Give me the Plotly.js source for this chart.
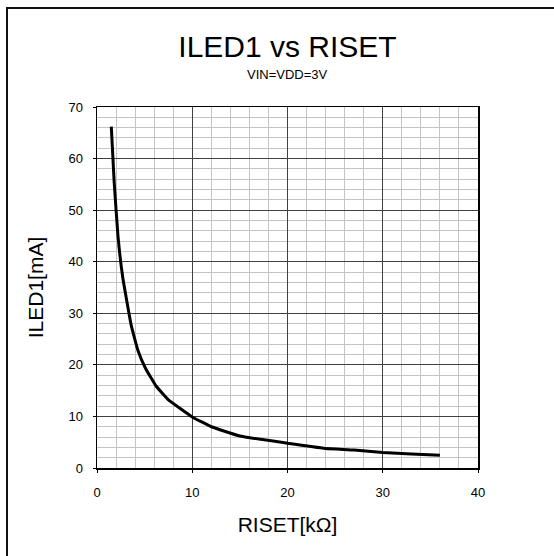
<!DOCTYPE html>
<html>
<head>
<meta charset="utf-8">
<script src="https://cdn.plot.ly/plotly-3.0.1.min.js"></script>
<style>
  html, body { margin: 0; padding: 0; background: #fff; }
  #wrap { position: relative; width: 554px; height: 556px; overflow: hidden; }
  #chart { position: absolute; left: 0; top: 0; width: 554px; height: 556px; }
  #frame { position: absolute; left: 6px; top: 7px; width: 600px; height: 600px;
           border-left: 2px solid #111; border-top: 2px solid #111; pointer-events: none; }
</style>
</head>
<body>
<div id="wrap">
  <div id="chart"></div>
  <div id="frame"></div>
</div>
<script>
// RISET [kΩ]
const riset = [1.5, 1.8, 2.2, 2.7, 3.6, 4.3, 5.1, 6.2, 7.5, 10, 12, 15, 20, 24, 27, 30, 33, 36];
// ILED1 [mA]
const iled1 = [66.2, 55.5, 45.0, 37.0, 27.6, 22.8, 19.3, 15.9, 13.2, 9.9, 8.0, 6.2, 4.8, 3.8, 3.5, 3.0, 2.7, 2.45];

const xTicks = [0, 10, 20, 30, 40];
const yTicks = [0, 10, 20, 30, 40, 50, 60, 70];

const font = "Liberation Sans, Arial, sans-serif";

const trace = {
  x: riset,
  y: iled1,
  type: 'scatter',
  mode: 'lines',
  line: { color: '#000000', width: 3, shape: 'spline', smoothing: 0.3 },
  hoverinfo: 'skip'
};

const axisCommon = {
  showline: true,
  linecolor: '#000000',
  linewidth: 1.5,
  mirror: true,
  showgrid: true,
  gridcolor: '#404040',
  gridwidth: 1,
  zeroline: false,
  ticks: 'outside',
  ticklen: 3,
  tickcolor: '#000000',
  tickfont: { family: font, size: 13, color: '#000000' },
  minor: { dtick: 2, showgrid: true, gridcolor: '#c4c4c4', gridwidth: 1, ticks: '' }
};

const layout = {
  width: 554,
  height: 556,
  margin: { l: 97, r: 76, t: 107, b: 88 },
  paper_bgcolor: '#ffffff',
  plot_bgcolor: '#ffffff',
  showlegend: false,
  title: {
    text: 'ILED1 vs RISET',
    font: { family: font, size: 30, color: '#000000' },
    x: 0.5, xanchor: 'center',
    y: 1 - 46 / 556, yanchor: 'middle',
    xref: 'paper'
  },
  annotations: [{
    text: 'VIN=VDD=3V',
    xref: 'paper', yref: 'paper',
    x: 0.5, y: 1 + (107 - 74) / (556 - 107 - 88),
    xanchor: 'center', yanchor: 'middle',
    showarrow: false,
    font: { family: font, size: 13, color: '#000000' }
  }],
  xaxis: Object.assign({}, axisCommon, {
    range: [0, 40],
    tickvals: xTicks,
    ticktext: xTicks.map(String),
    ticklabelstandoff: 9,
    title: { text: 'RISET[kΩ]', font: { family: font, size: 21, color: '#000000' }, standoff: 18 }
  }),
  yaxis: Object.assign({}, axisCommon, {
    range: [0, 70],
    tickvals: yTicks,
    ticktext: yTicks.map(String),
    ticklabelstandoff: 7,
    title: { text: 'ILED1[mA]', font: { family: font, size: 21, color: '#000000' }, standoff: 19 }
  })
};

Plotly.newPlot('chart', [trace], layout, { staticPlot: true, displayModeBar: false });
</script>
</body>
</html>
